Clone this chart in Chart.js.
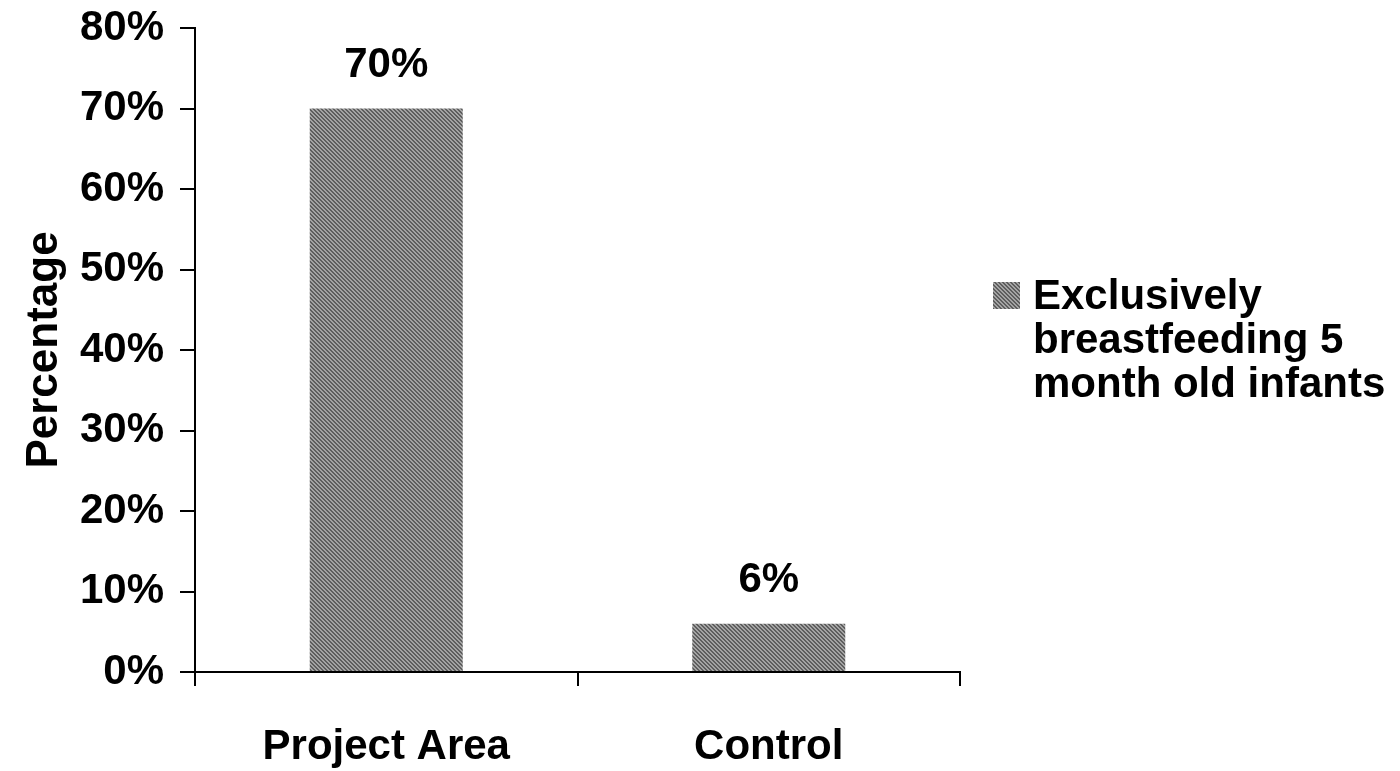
<!DOCTYPE html>
<html>
<head>
<meta charset="utf-8">
<script src="https://cdn.jsdelivr.net/npm/chart.js@4"></script>
<style>
  html, body { margin: 0; padding: 0; background: #fff; }
  #wrap { width: 1400px; height: 771px; }
</style>
</head>
<body>
<div id="wrap"><canvas id="myChart" width="1400" height="771"></canvas></div>
<script>
// data
const categories = ['Project Area', 'Control'];
const breastfeeding = [70, 6];
const seriesLabel = ['Exclusively', 'breastfeeding 5', 'month old infants'];
const yTicks = [0, 10, 20, 30, 40, 50, 60, 70, 80];

const FONT = '"Liberation Sans", Arial, sans-serif';
const SIZE = 42;

// small hatch tile like the old office fill
function hatch() {
    const c = document.createElement('canvas');
    c.width = 4; c.height = 4;
    const g = c.getContext('2d');
    for (let y = 0; y < 4; y++) {
        for (let x = 0; x < 4; x++) {
            const d = ((x - y) % 4 + 4) % 4;
            g.fillStyle = d < 2 ? '#5e5e5e' : '#a4a4a4';
            g.fillRect(x, y, 1, 1);
        }
    }
    return g.createPattern(c, 'repeat');
}
const fill = hatch();

// value labels on top of bars
const valueLabels = {
    id: 'valueLabels',
    afterDatasetsDraw(chart) {
        const ctx = chart.ctx;
        const meta = chart.getDatasetMeta(0);
        ctx.save();
        ctx.font = 'bold ' + SIZE + 'px ' + FONT;
        ctx.fillStyle = '#000';
        ctx.textAlign = 'center';
        ctx.textBaseline = 'bottom';
        meta.data.forEach((bar, i) => {
            ctx.fillText(chart.data.datasets[0].data[i] + '%', bar.x, bar.y - 22);
        });
        ctx.restore();
    }
};

// legend on the right, wrapped on three lines
const sideLegend = {
    id: 'sideLegend',
    afterDraw(chart) {
        const ctx = chart.ctx;
        const ds = chart.data.datasets[0];
        const x = 993, y = 282;
        ctx.save();
        ctx.fillStyle = ds.backgroundColor;
        ctx.fillRect(x, y, 27, 27);
        ctx.font = 'bold ' + SIZE + 'px ' + FONT;
        ctx.fillStyle = '#000';
        ctx.textAlign = 'left';
        ctx.textBaseline = 'middle';
        ds.label.forEach((line, i) => {
            ctx.fillText(line, 1033, y + 15 + i * 44);
        });
        ctx.restore();
    }
};

new Chart(document.getElementById('myChart'), {
    type: 'bar',
    data: {
        labels: categories,
        datasets: [{
            label: seriesLabel,
            data: breastfeeding,
            backgroundColor: fill,
            borderWidth: 0,
            barPercentage: 0.4,
            categoryPercentage: 1
        }]
    },
    options: {
        responsive: false,
        animation: false,
        layout: { padding: { top: 28, right: 440, left: 0, bottom: 0 } },
        plugins: {
            legend: { display: false },
            tooltip: { enabled: false }
        },
        scales: {
            x: {
                offset: true,
                grid: {
                    offset: true,
                    drawOnChartArea: false,
                    color: '#000',
                    lineWidth: 2,
                    tickLength: 14
                },
                border: { color: '#000', width: 2 },
                ticks: {
                    color: '#000',
                    padding: 36,
                    font: { family: FONT, size: SIZE, weight: 'bold' }
                },
                afterFit(scale) {
                    scale.height = 99;
                    scale.paddingLeft = 0;
                    scale.paddingRight = 0;
                }
            },
            y: {
                min: 0,
                max: 80,
                afterBuildTicks(scale) { scale.ticks = yTicks.map(v => ({ value: v })); },
                grid: {
                    drawOnChartArea: false,
                    color: '#000',
                    lineWidth: 2,
                    tickLength: 15
                },
                border: { color: '#000', width: 2 },
                ticks: {
                    color: '#000',
                    padding: 16,
                    font: { family: FONT, size: SIZE, weight: 'bold' },
                    callback: v => v + '%'
                },
                title: {
                    display: true,
                    text: 'Percentage',
                    color: '#000',
                    font: { family: FONT, size: 44, weight: 'bold' },
                    padding: { top: 18, bottom: 0 }
                },
                afterFit(scale) {
                    scale.width = 195;
                    scale.paddingTop = 0;
                    scale.paddingBottom = 0;
                }
            }
        }
    },
    plugins: [valueLabels, sideLegend]
});
</script>
</body>
</html>
